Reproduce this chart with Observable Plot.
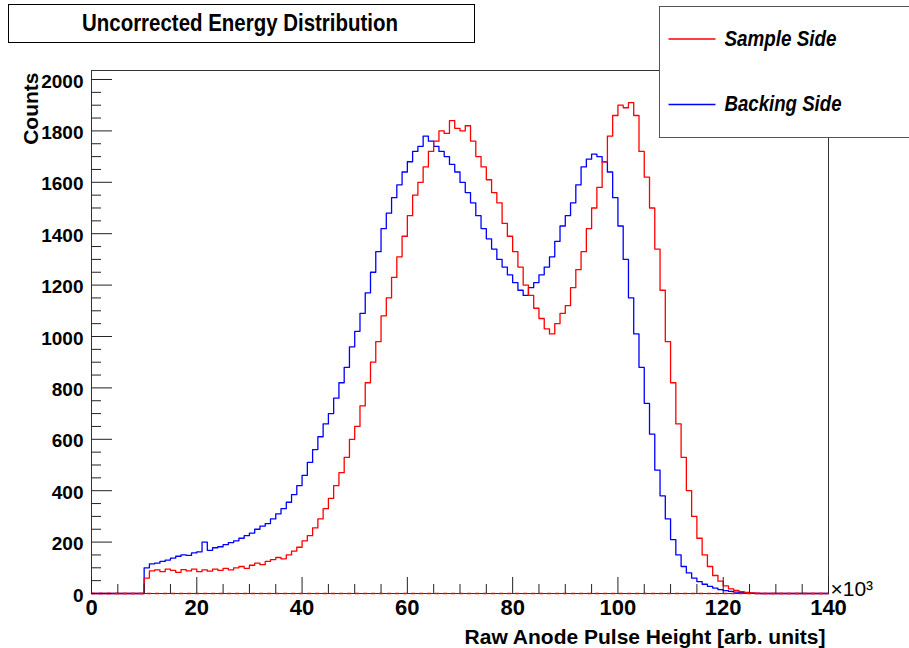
<!DOCTYPE html>
<html><head><meta charset="utf-8">
<script src="https://cdn.jsdelivr.net/npm/d3@7"></script>
<script src="https://cdn.jsdelivr.net/npm/@observablehq/plot@0.6"></script>
<style>
body{margin:0;background:#fff;}
#wrap{position:relative;width:909px;height:648px;overflow:hidden;font-family:"Liberation Sans",Arial,sans-serif;background:#fff;}
#chart{position:absolute;left:0;top:0;}
#title{position:absolute;left:8px;top:4px;width:467px;height:39px;border:1.5px solid #000;background:#fff;box-sizing:border-box;}
#legend{position:absolute;left:659px;top:6px;width:270px;height:132px;border:1.5px solid #555;background:#fff;box-sizing:border-box;}
#title svg,#legend svg{position:absolute;left:0;top:0;overflow:visible;}
</style></head><body>
<div id="wrap"><div id="chart"></div><div id="title"></div><div id="legend"></div></div>
<script>
// ---- data (bin width 1 ×10^3, first non-empty bin at 10) ----
const titleText = "Uncorrected Energy Distribution";
const xLabel = "Raw Anode Pulse Height [arb. units]";
const yLabel = "Counts";
const seriesNames = ["Sample Side", "Backing Side"];
const seriesColors = ["#ff0000", "#0000ff"];
const xRange = [0, 140];
const firstBin = 10;
const sampleCounts = [
  60, 88, 92, 85, 95, 90, 82, 93, 88, 95,
  85, 92, 87, 95, 90, 98, 92, 100, 105, 98,
  110, 118, 112, 125, 132, 140, 135, 150, 165, 180,
  205, 225, 255, 290, 330, 370, 420, 470, 530, 600,
  650, 730, 820, 900, 980, 1080, 1150, 1230, 1310, 1390,
  1470, 1550, 1600, 1660, 1720, 1760, 1800, 1790, 1840, 1810,
  1800, 1820, 1760, 1700, 1660, 1610, 1560, 1520, 1440, 1390,
  1330, 1270, 1200, 1160, 1110, 1070, 1030, 1010, 1050, 1090,
  1120, 1190, 1260, 1330, 1420, 1500, 1580, 1680, 1780,
  1860, 1900, 1890, 1910, 1860, 1720, 1620, 1500, 1340, 1180,
  980, 820, 660, 530, 400, 300, 215, 150, 105, 70,
  48, 30, 18, 12, 7, 4, 2, 1, 0
];
const backingCounts = [
  100, 115, 118, 125, 130, 138, 145, 150, 148, 158,
  162, 200, 168, 178, 182, 190, 198, 205, 215, 225,
  235, 250, 262, 272, 290, 310, 330, 355, 385, 420,
  460, 510, 560, 610, 660, 700, 760, 820, 880, 960,
  1020, 1090, 1170, 1250, 1330, 1420, 1480, 1540, 1590, 1640,
  1680, 1720, 1740, 1780, 1760, 1740, 1720, 1700, 1670, 1640,
  1600, 1560, 1520, 1470, 1420, 1380, 1340, 1300, 1270, 1240,
  1210, 1180, 1160, 1190, 1210, 1240, 1270, 1310, 1370, 1430,
  1470, 1520, 1590, 1660, 1690, 1710, 1700, 1680,
  1640, 1540, 1430, 1300, 1150, 1010, 880, 740, 620, 480,
  380, 290, 210, 150, 105, 80, 60, 46, 36, 28,
  21, 15, 11, 8, 5, 3, 2, 1, 0
];
const xMajor = [0, 20, 40, 60, 80, 100, 120, 140];
const xMinor = d3.range(0, 141, 5).filter(v => v % 20 !== 0);
const yMajor = [0, 200, 400, 600, 800, 1000, 1200, 1400, 1600, 1800, 2000];
const yMinor = d3.range(0, 2035, 50).filter(v => v % 200 !== 0);

// build histogram step points
function histPoints(counts, name) {
  const pts = [];
  for (let b = xRange[0]; b < xRange[1]; b++) {
    const i = b - firstBin;
    const c = (i >= 0 && i < counts.length) ? counts[i] : 0;
    pts.push({x: b, y: c, s: name});
  }
  pts.push({x: xRange[1], y: 0, s: name});
  return pts;
}
const sampleData = histPoints(sampleCounts, seriesNames[0]);
const backingData = histPoints(backingCounts, seriesNames[1]);

const W = 909, H = 648, mL = 91, mR = 81, mT = 70, mB = 55;
const fW = W - mL - mR, fH = H - mT - mB;

const chart = Plot.plot({
  width: W, height: H,
  marginLeft: mL, marginRight: mR, marginTop: mT, marginBottom: mB,
  style: {fontFamily: '"Liberation Sans", Arial, sans-serif', background: "transparent", overflow: "visible"},
  x: {domain: xRange, axis: null},
  y: {domain: [0, 2035], axis: null},
  marks: [
    Plot.lineY(backingData, {x: "x", y: "y", curve: "step-after", stroke: seriesColors[1], strokeWidth: 1.3}),
    Plot.lineY(sampleData, {x: "x", y: "y", curve: "step-after", stroke: seriesColors[0], strokeWidth: 1.3}),
    Plot.frame({stroke: "#333", strokeWidth: 1}),
    Plot.ruleY([0], {stroke: "#ff0000", strokeDasharray: "4,4", strokeWidth: 1.3}),
    Plot.tickX(xMajor, {x: d => d, insetTop: fH - 16, stroke: "#222"}),
    Plot.tickX(xMinor, {x: d => d, insetTop: fH - 9, stroke: "#222"}),
    Plot.tickY(yMajor, {y: d => d, insetRight: fW - 21, stroke: "#222"}),
    Plot.tickY(yMinor, {y: d => d, insetRight: fW - 10, stroke: "#222"}),
    Plot.text(xMajor, {x: d => d, text: d => String(d), frameAnchor: "bottom", lineAnchor: "top", dy: 6,
      fontSize: 22, fontWeight: "bold", fill: "#000", ariaLabel: "xticklabel"}),
    Plot.text(yMajor, {y: d => d, text: d => String(d), frameAnchor: "left", textAnchor: "end", lineAnchor: "middle",
      dx: -8, dy: 2, fontSize: 19, fontWeight: "bold", fill: "#000"}),
    Plot.text([yLabel], {frameAnchor: "top-left", rotate: -90, textAnchor: "end", lineAnchor: "middle",
      dx: -60, dy: 2, fontSize: 21, fontWeight: "bold", fill: "#000", ariaLabel: "ylabel"}),
    Plot.text([xLabel], {frameAnchor: "bottom-right", textAnchor: "end", lineAnchor: "bottom", dx: -3, dy: 50,
      fontSize: 21, fontWeight: "bold", fill: "#000", ariaLabel: "xlabel"}),
    Plot.text(["×10³"], {frameAnchor: "bottom-right", textAnchor: "start", lineAnchor: "bottom", dx: 2, dy: 2,
      fontSize: 21, fill: "#000"})
  ]
});
document.getElementById("chart").appendChild(chart);

// condensed glyph widths like the original rendering
const svg = d3.select(chart);
svg.selectAll('g[aria-label="xticklabel"] text').each(function() {
  const t = this.textContent;
  d3.select(this).attr("textLength", t.length * 9.6).attr("lengthAdjust", "spacingAndGlyphs");
});
svg.selectAll('g[aria-label="xlabel"] text').attr("textLength", 323).attr("lengthAdjust", "spacingAndGlyphs");
svg.selectAll('g[aria-label="ylabel"] text').attr("textLength", 78).attr("lengthAdjust", "spacingAndGlyphs");

// title box
const ts = d3.select("#title").append("svg").attr("width", 467).attr("height", 39);
ts.append("text").attr("x", 231).attr("y", 25.5).attr("text-anchor", "middle")
  .attr("font-size", 24).attr("font-weight", "bold").attr("font-family", '"Liberation Sans", Arial, sans-serif')
  .attr("textLength", 316).attr("lengthAdjust", "spacingAndGlyphs").text(titleText);

// legend box
const ls = d3.select("#legend").append("svg").attr("width", 270).attr("height", 132);
const legendRows = [{y: 32, ty: 38.5, len: 112}, {y: 97.5, ty: 103.5, len: 117}];
seriesNames.forEach((name, i) => {
  const r = legendRows[i];
  ls.append("line").attr("x1", 8.5).attr("x2", 55.5).attr("y1", r.y).attr("y2", r.y)
    .attr("stroke", seriesColors[i]).attr("stroke-width", 1.3);
  ls.append("text").attr("x", 64.5).attr("y", r.ty)
    .attr("font-size", 22).attr("font-weight", "bold").attr("font-style", "italic")
    .attr("font-family", '"Liberation Sans", Arial, sans-serif')
    .attr("textLength", r.len).attr("lengthAdjust", "spacingAndGlyphs").text(name);
});
</script>
</body></html>
